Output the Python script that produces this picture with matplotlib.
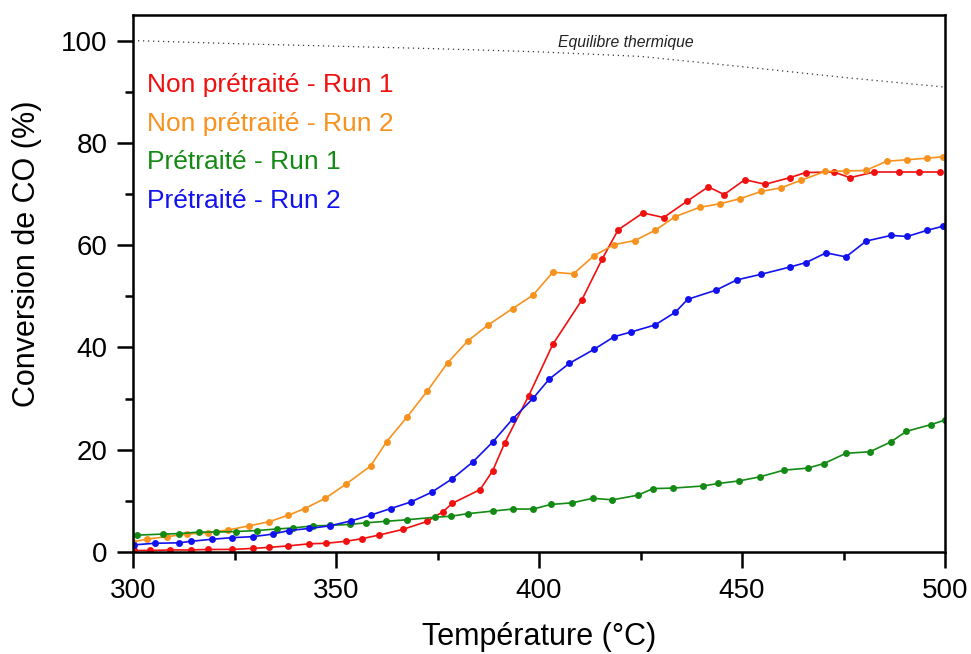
import matplotlib
matplotlib.use("Agg")
import matplotlib.pyplot as plt
from matplotlib.ticker import MultipleLocator

plt.rcParams['font.family'] = ['Liberation Sans', 'DejaVu Sans']

# ---- data ----
t_red = [300.2, 304.3, 309.2, 314.3, 318.4, 324.4, 329.5, 333.4, 338.3, 343.4, 347.5, 352.5,
         356.4, 360.5, 366.4, 372.5, 376.4, 378.6, 385.5, 388.6, 391.6, 397.5, 403.4, 410.5,
         415.5, 419.5, 425.6, 430.7, 436.5, 441.7, 445.6, 450.7, 455.7, 461.8, 465.7, 472.6,
         476.6, 482.6, 488.7, 493.7, 498.8]
c_red = [0.3, 0.3, 0.4, 0.4, 0.5, 0.5, 0.7, 0.9, 1.2, 1.6, 1.7, 2.1,
         2.6, 3.3, 4.4, 6.0, 7.9, 9.5, 12.2, 15.9, 21.4, 30.6, 40.6, 49.2,
         57.2, 63.0, 66.3, 65.4, 68.6, 71.4, 69.9, 72.8, 71.9, 73.2, 74.2, 74.3,
         73.2, 74.3, 74.3, 74.3, 74.3]

t_orange = [300.0, 303.4, 308.3, 313.4, 318.5, 323.4, 328.5, 333.4, 338.3, 342.3, 347.4, 352.5,
            358.5, 362.5, 367.5, 372.5, 377.5, 382.5, 387.5, 393.5, 398.5, 403.4, 408.5, 413.5,
            418.5, 423.6, 428.6, 433.6, 439.6, 444.6, 449.6, 454.7, 459.6, 464.6, 470.4, 475.5,
            480.5, 485.6, 490.6, 495.6, 499.6]
c_orange = [2.0, 2.5, 3.0, 3.5, 3.8, 4.3, 5.1, 5.9, 7.2, 8.5, 10.5, 13.3,
            16.8, 21.6, 26.4, 31.5, 37.0, 41.3, 44.4, 47.6, 50.2, 54.7, 54.4, 57.9,
            60.1, 60.9, 62.9, 65.6, 67.4, 68.1, 69.1, 70.5, 71.2, 72.7, 74.4, 74.5,
            74.6, 76.4, 76.7, 77.0, 77.3]

t_green = [301.1, 307.3, 311.4, 316.3, 320.4, 325.4, 330.5, 335.4, 339.3, 344.3, 348.5, 353.4,
           357.3, 362.3, 367.4, 374.5, 378.4, 382.5, 388.6, 393.5, 398.6, 402.9, 408.1, 413.2,
           418.1, 424.3, 428.1, 433.1, 440.3, 444.2, 449.3, 454.4, 460.3, 466.2, 470.2, 475.6,
           481.5, 486.6, 490.5, 496.5, 500.0]
c_green = [3.3, 3.5, 3.6, 3.9, 3.9, 4.0, 4.2, 4.5, 4.7, 5.1, 5.2, 5.4,
           5.7, 6.0, 6.3, 6.8, 7.0, 7.5, 8.0, 8.4, 8.4, 9.3, 9.6, 10.5,
           10.2, 11.1, 12.4, 12.5, 12.9, 13.4, 13.9, 14.7, 16.0, 16.4, 17.3, 19.3,
           19.6, 21.5, 23.6, 24.9, 25.8]

t_blue = [300.2, 305.3, 311.4, 314.4, 319.5, 324.4, 329.5, 334.4, 338.4, 343.4, 348.4, 353.8,
          358.5, 363.5, 368.5, 373.6, 378.6, 383.7, 388.6, 393.5, 398.6, 402.5, 407.5, 413.5,
          418.5, 422.6, 428.6, 433.6, 436.6, 443.6, 448.7, 454.7, 461.7, 465.8, 470.7, 475.6,
          480.6, 486.7, 490.7, 495.6, 499.5]
c_blue = [1.4, 1.7, 1.8, 2.1, 2.5, 2.8, 3.0, 3.5, 4.2, 4.6, 5.1, 6.1,
          7.2, 8.5, 9.8, 11.7, 14.3, 17.6, 21.5, 26.0, 30.1, 33.8, 36.9, 39.6,
          42.1, 43.0, 44.4, 46.9, 49.4, 51.2, 53.2, 54.3, 55.7, 56.6, 58.5, 57.7,
          60.8, 61.9, 61.7, 62.9, 63.7]

t_eq = [300, 325, 350, 375, 400, 425, 450, 475, 500]
c_eq = [100.0, 99.4, 98.9, 98.4, 97.8, 96.9, 94.9, 92.8, 90.9]

labels = ["Non prétraité - Run 1", "Non prétraité - Run 2",
          "Prétraité - Run 1", "Prétraité - Run 2"]
colors = ["#f01010", "#f7921e", "#138a13", "#1212ee"]
eq_label = "Equilibre thermique"

# ---- figure ----
fig = plt.figure(figsize=(9.71, 6.54), dpi=100)
ax = fig.add_axes([133/971, 1-552/654, (945-133)/971, (552-15)/654])

ax.plot(t_eq, c_eq, color='#333333', linestyle=(0, (1, 3)), linewidth=0.9)
ax.text(421.4, 99.6, eq_label, style='italic', fontsize=11.3, ha='center', va='center',
        color='#222222')

series = [(t_red, c_red), (t_orange, c_orange), (t_green, c_green), (t_blue, c_blue)]
lines = []
for (t, c), col, lab in zip(series, colors, labels):
    ln, = ax.plot(t, c, color=col, linewidth=1.2, marker='o', markersize=5,
                  markeredgewidth=0, label=lab)
    lines.append(ln)

leg = ax.legend(handles=lines, loc='upper left', bbox_to_anchor=(0.0172, 0.8925),
                frameon=False, handlelength=0, handletextpad=0, markerscale=0,
                fontsize=19, labelspacing=0.56, labelcolor=colors,
                borderaxespad=0, borderpad=0)
for h in leg.legend_handles:
    h.set_visible(False)

ax.set_xlim(300, 500)
ax.set_ylim(0, 105)
ax.xaxis.set_major_locator(MultipleLocator(50))
ax.xaxis.set_minor_locator(MultipleLocator(25))
ax.yaxis.set_major_locator(MultipleLocator(20))
ax.yaxis.set_minor_locator(MultipleLocator(10))
ax.tick_params(which='both', direction='out', width=1.8, labelsize=20, top=False, right=False)
ax.tick_params(which='major', length=11.5, pad=7)
ax.tick_params(which='minor', length=6)
for s in ax.spines.values():
    s.set_linewidth(1.8)

ax.set_xlabel("Température (°C)", fontsize=22, labelpad=13)
ax.set_ylabel("Conversion de CO (%)", fontsize=22)
ax.yaxis.set_label_coords(-0.112, 0.555)

fig.savefig("out.png", dpi=100)
